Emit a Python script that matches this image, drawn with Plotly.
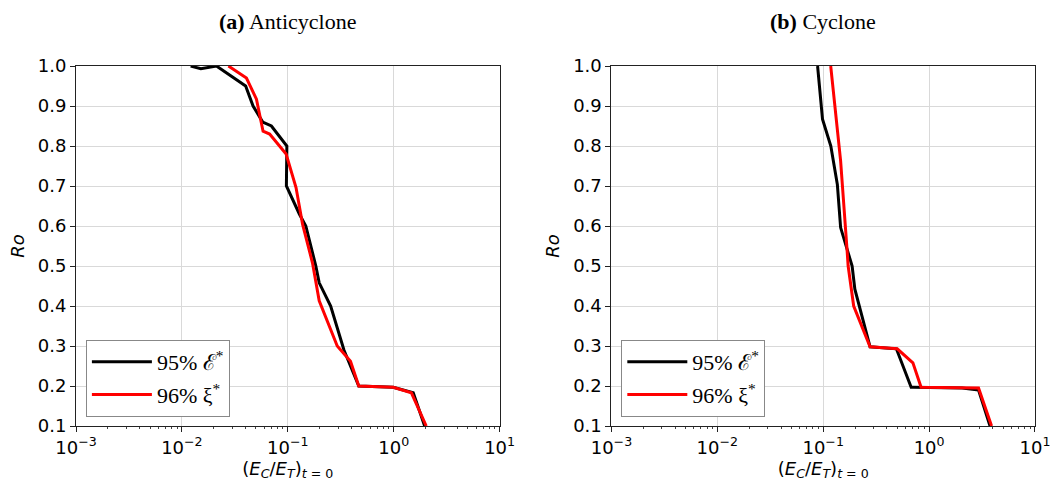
import plotly.graph_objects as go

# Panel (a) Anticyclone
a_black_x = [0.0121, 0.0151, 0.0212, 0.040, 0.047, 0.058, 0.070, 0.098, 0.097, 0.1285, 0.148, 0.184, 0.198, 0.254, 0.339, 0.468, 0.99, 1.53, 1.96]
a_black_y = [1.0, 0.993, 1.0, 0.95, 0.90, 0.86, 0.85, 0.80, 0.70, 0.63, 0.60, 0.50, 0.458, 0.40, 0.29, 0.20, 0.197, 0.183, 0.1]
a_red_x = [0.0275, 0.0407, 0.0506, 0.0584, 0.0674, 0.0964, 0.1196, 0.138, 0.171, 0.198, 0.293, 0.391, 0.468, 0.99, 1.47, 2.03]
a_red_y = [1.0, 0.97, 0.917, 0.837, 0.83, 0.78, 0.696, 0.604, 0.508, 0.413, 0.30, 0.262, 0.20, 0.197, 0.183, 0.1]

# Panel (b) Cyclone
b_black_x = [0.0885, 0.0985, 0.118, 0.136, 0.146, 0.1875, 0.199, 0.277, 0.491, 0.677, 0.703, 2.05, 2.93, 3.76]
b_black_y = [1.0, 0.867, 0.80, 0.704, 0.596, 0.50, 0.442, 0.298, 0.293, 0.197, 0.197, 0.195, 0.19, 0.1]
b_red_x = [0.1177, 0.146, 0.168, 0.172, 0.194, 0.277, 0.50, 0.703, 0.84, 2.93, 3.89]
b_red_y = [1.0, 0.763, 0.54, 0.50, 0.40, 0.298, 0.293, 0.258, 0.197, 0.195, 0.1]

SERIF = "Liberation Serif"
names = ["95% ℰ<sup>*</sup>", "96% ξ<sup>*</sup>"]
titles = ["<b>(a)</b> Anticyclone", "<b>(b)</b> Cyclone"]
y_ticks = [0.1, 0.2, 0.3, 0.4, 0.5, 0.6, 0.7, 0.8, 0.9, 1.0]
x_ticks = [0.001, 0.01, 0.1, 1, 10]
x_ticktext = ["10<sup>−3</sup>", "10<sup>−2</sup>", "10<sup>−1</sup>", "10<sup>0</sup>", "10<sup>1</sup>"]

fig = go.Figure()
series = [
    (a_black_x, a_black_y, "black", names[0], "x", "y", "legend", "a1"),
    (a_red_x, a_red_y, "#ff0000", names[1], "x", "y", "legend", "a2"),
    (b_black_x, b_black_y, "black", names[0], "x2", "y2", "legend2", "b1"),
    (b_red_x, b_red_y, "#ff0000", names[1], "x2", "y2", "legend2", "b2"),
]
for xs, ys, col, nm, xa, ya, lg, grp in series:
    fig.add_trace(go.Scatter(x=xs, y=ys, mode="lines", name=nm,
                             line=dict(color=col, width=3), legendgroup=grp,
                             xaxis=xa, yaxis=ya, legend=lg, showlegend=True))

W, H = 1062, 482
L, R, T, B = 76, 17, 66, 55
pw = W - L - R
ph = H - T - B
d1 = [0, (504 - L) / pw]
d2 = [(617 - L) / pw, 1]

axis_common = dict(showline=True, linecolor="#222222", linewidth=1, mirror=True,
                   ticks="outside", ticklen=5, tickcolor="#222222",
                   showgrid=True, gridcolor="#d9d9d9", gridwidth=1,
                   tickfont=dict(family="DejaVu Sans", size=18, color="black"),
                   zeroline=False)
xtitle = "(<i>E</i><sub><i>C</i></sub>/<i>E</i><sub><i>T</i></sub>)<sub><i>t</i> = 0</sub>"
for i, dom in enumerate([d1, d2]):
    sfx = "" if i == 0 else str(i + 1)
    fig.update_layout(**{
        "xaxis" + sfx: dict(axis_common, type="log", range=[-3, 1], domain=dom,
                            tickvals=x_ticks, ticktext=x_ticktext,
                            anchor="y" + sfx, ticklabelstandoff=0,
                            minor=dict(ticks="outside", ticklen=2, tickcolor="#444444", dtick="D1", showgrid=False),
                            title=dict(text=xtitle, standoff=0,
                                       font=dict(family="DejaVu Sans", size=18, color="black"))),
        "yaxis" + sfx: dict(axis_common, range=[0.1, 1.0], tickvals=y_ticks,
                            tickformat=".1f", anchor="x" + sfx,
                            title=dict(text="<i>Ro</i>", standoff=8,
                                       font=dict(family="DejaVu Sans", size=18, color="black"))),
    })

for key, xpix in [("legend", 86), ("legend2", 627)]:
    fig.update_layout(**{key: dict(
        bgcolor="white", bordercolor="#888888", borderwidth=1,
        font=dict(family=SERIF, size=22, color="black"),
        xanchor="left", yanchor="bottom", itemwidth=60,
        tracegroupgap=1,
        x=(xpix - L) / pw, y=(427 - 418) / ph)})

for i, dom in enumerate([d1, d2]):
    fig.add_annotation(text=titles[i], x=(dom[0] + dom[1]) / 2, y=(H - B - 21) / ph,
                       xref="paper", yref="paper", showarrow=False,
                       xanchor="center", yanchor="middle",
                       font=dict(family=SERIF, size=22, color="black"))

fig.update_layout(width=W, height=H, margin=dict(l=L, r=R, t=T, b=B),
                  font=dict(family=SERIF, color="black"),
                  plot_bgcolor="white", paper_bgcolor="white")

fig.write_html("out.html")
